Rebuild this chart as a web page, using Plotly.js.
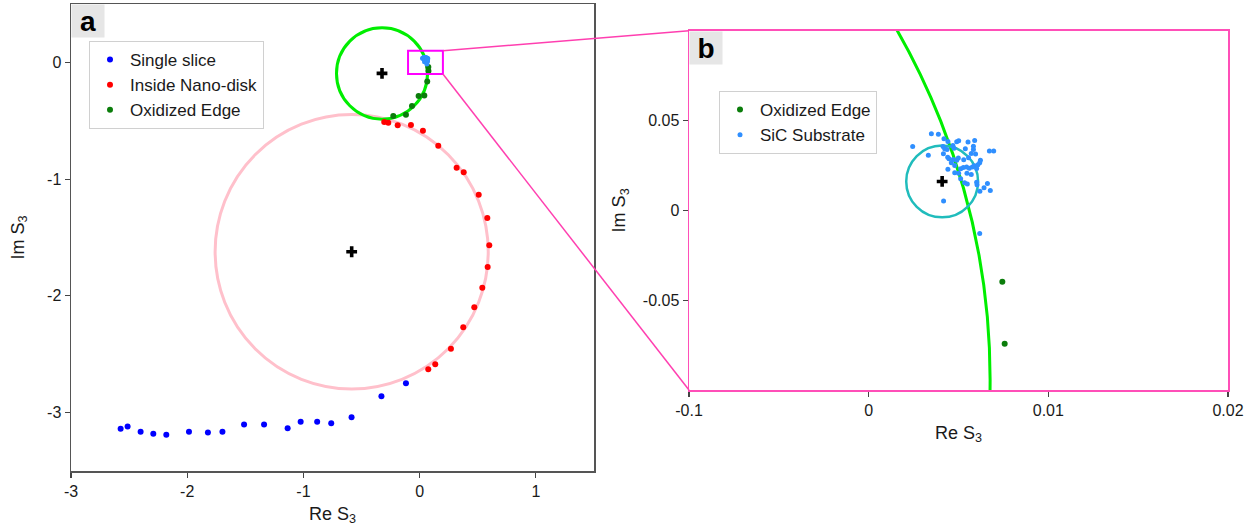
<!DOCTYPE html>
<html>
<head>
<meta charset="utf-8">
<script src="https://cdn.plot.ly/plotly-3.0.1.min.js"></script>
<style>html,body{margin:0;padding:0;background:#fff;}#chart{width:1260px;height:531px;}</style>
</head>
<body>
<div id="chart"></div>
<script>
// ---------------- data ----------------
const singleSliceRe = [-2.573,-2.513,-2.401,-2.292,-2.180,-1.985,-1.822,-1.697,-1.511,-1.339,-1.136,-1.024,-0.882,-0.761,-0.586,-0.329,-0.118];
const singleSliceIm = [-3.139,-3.119,-3.164,-3.182,-3.190,-3.164,-3.171,-3.164,-3.102,-3.102,-3.134,-3.079,-3.079,-3.091,-3.039,-2.859,-2.748];

const nanoDiskRe = [-0.305,-0.270,-0.189,-0.075,0.028,0.160,0.318,0.379,0.508,0.582,0.599,0.585,0.539,0.470,0.375,0.269,0.134,0.074];
const nanoDiskIm = [-0.511,-0.517,-0.539,-0.537,-0.586,-0.714,-0.902,-0.942,-1.134,-1.333,-1.567,-1.753,-1.930,-2.098,-2.269,-2.452,-2.586,-2.628];

const oxEdgeRe = [-0.227,-0.118,-0.066,-0.009,0.040,0.065,0.0744,0.0757];
const oxEdgeIm = [-0.460,-0.449,-0.374,-0.289,-0.283,-0.163,-0.0398,-0.0743];

const sicRe = [0.0349,0.0388,0.0245,0.0332,0.0419,0.0441,0.0490,0.0501,0.0553,0.0590,0.0414,0.0423,0.0436,0.0469,0.0475,0.0538,0.0583,0.0583,0.0672,0.0696,0.0571,0.0595,0.0416,0.0440,0.0447,0.0471,0.0490,0.0499,0.0529,0.0556,0.0622,0.0618,0.0460,0.0479,0.0441,0.0512,0.0527,0.0545,0.0560,0.0577,0.0588,0.0601,0.0608,0.0479,0.0501,0.0547,0.0571,0.0512,0.0534,0.0549,0.0601,0.0603,0.0661,0.0642,0.0677,0.0619,0.0417,0.0618];
const sicIm = [0.0426,0.0424,0.0356,0.0307,0.0398,0.0383,0.0382,0.0387,0.0380,0.0389,0.0356,0.0343,0.0339,0.0361,0.0346,0.0343,0.0357,0.0339,0.0330,0.0330,0.0317,0.0313,0.0315,0.0296,0.0287,0.0283,0.0279,0.0291,0.0282,0.0293,0.0279,0.0265,0.0265,0.0250,0.0229,0.0232,0.0239,0.0241,0.0235,0.0241,0.0248,0.0233,0.0254,0.0209,0.0207,0.0207,0.0200,0.0176,0.0154,0.0146,0.0157,0.0143,0.0150,0.0126,0.0111,0.0106,0.0052,-0.0129];

// fitted circles: nano-disk, oxidized edge, SiC substrate
const circleRe = [-0.585, -0.324, 0.0409];
const circleIm = [-1.622, -0.0945, 0.0161];
const circleR  = [1.175, 0.3916, 0.020];

// zoom window (panel a -> panel b)
const zoomRe = [-0.1, 0.2];
const zoomIm = [-0.1, 0.1];

// ticks
const aXTickVals = [-3,-2,-1,0,1];
const aXTickText = ['-3','-2','-1','0','1'];
const aYTickVals = [0,-1,-2,-3];
const aYTickText = ['0','-1','-2','-3'];
const bXTickVals = [-0.1,0,0.1,0.2];
const bXTickText = ['-0.1','0','0.01','0.02'];
const bYTickVals = [-0.05,0,0.05];
const bYTickText = ['-0.05','0','0.05'];

// ---------------- layout helpers ----------------
const W = 1260, H = 531;
const FONT = 'Liberation Sans, Arial, sans-serif';
const domAX = [71/W, 594/W], domAY = [(H-471)/H, (H-4)/H];
const domBX = [689/W, 1228/W], domBY = [(H-390)/H, (H-30.7)/H];
const rngAX = [-3, 1.5], rngAY = [-3.5, 0.5];
const rngBX = [-0.1, 0.2], rngBY = [-0.1, 0.1];
function toPaper(v, dom, rng){ return dom[0] + (v - rng[0])/(rng[1]-rng[0])*(dom[1]-dom[0]); }

const cBlue = '#0000ff', cRed = '#ff0000', cGreen = '#0b7d0b', cSiC = '#2f8fff';
const crossMarker = {symbol:'cross', size:9, color:'#000', line:{width:0}};

const traces = [
  {x: singleSliceRe, y: singleSliceIm, type:'scatter', mode:'markers', name:'Single slice',
   marker:{color:cBlue, size:6}, xaxis:'x', yaxis:'y', legend:'legend'},
  {x: nanoDiskRe, y: nanoDiskIm, type:'scatter', mode:'markers', name:'Inside Nano-disk',
   marker:{color:cRed, size:6}, xaxis:'x', yaxis:'y', legend:'legend'},
  {x: oxEdgeRe, y: oxEdgeIm, type:'scatter', mode:'markers', name:'Oxidized Edge',
   marker:{color:cGreen, size:6}, xaxis:'x', yaxis:'y', legend:'legend'},
  {x: sicRe, y: sicIm, type:'scatter', mode:'markers', name:'SiC Substrate', showlegend:false,
   marker:{color:cSiC, size:5}, xaxis:'x', yaxis:'y'},
  {x: circleRe.slice(0,2), y: circleIm.slice(0,2), type:'scatter', mode:'markers', showlegend:false,
   marker:crossMarker, xaxis:'x', yaxis:'y', hoverinfo:'skip'},
  // panel b
  {x: oxEdgeRe, y: oxEdgeIm, type:'scatter', mode:'markers', name:'Oxidized Edge',
   marker:{color:cGreen, size:6}, xaxis:'x2', yaxis:'y2', legend:'legend2'},
  {x: sicRe, y: sicIm, type:'scatter', mode:'markers', name:'SiC Substrate',
   marker:{color:cSiC, size:5}, xaxis:'x2', yaxis:'y2', legend:'legend2'},
  {x: circleRe.slice(2), y: circleIm.slice(2), type:'scatter', mode:'markers', showlegend:false,
   marker:crossMarker, xaxis:'x2', yaxis:'y2', hoverinfo:'skip'}
];

const circleColors = ['#ffc0cb', '#00ee00', '#20bcbc'];
const circleWidths = [3, 3, 2.5];
const shapes = [];
for (let i = 0; i < 2; i++) {
  shapes.push({type:'circle', xref:'x', yref:'y', layer:'below',
    x0: circleRe[i]-circleR[i], x1: circleRe[i]+circleR[i], y0: circleIm[i]-circleR[i], y1: circleIm[i]+circleR[i],
    line:{color:circleColors[i], width:circleWidths[i]}});
}
for (let i = 1; i < 3; i++) {
  shapes.push({type:'circle', xref:'x2', yref:'y2', layer:'below',
    x0: circleRe[i]-circleR[i], x1: circleRe[i]+circleR[i], y0: circleIm[i]-circleR[i], y1: circleIm[i]+circleR[i],
    line:{color:circleColors[i], width:circleWidths[i]}});
}
shapes.push({type:'rect', xref:'x', yref:'y', layer:'above',
  x0: zoomRe[0], x1: zoomRe[1], y0: zoomIm[0], y1: zoomIm[1], line:{color:'#ff00ff', width:2}});
const cornerX = toPaper(zoomRe[1], domAX, rngAX);
shapes.push({type:'line', xref:'paper', yref:'paper', layer:'above',
  x0: cornerX, y0: toPaper(zoomIm[1], domAY, rngAY), x1: domBX[0], y1: domBY[1], line:{color:'#ff3fb0', width:1.5}});
shapes.push({type:'line', xref:'paper', yref:'paper', layer:'above',
  x0: cornerX, y0: toPaper(zoomIm[0], domAY, rngAY), x1: domBX[0], y1: domBY[0], line:{color:'#ff3fb0', width:1.5}});

const axA = {showgrid:false, zeroline:false, showline:true, mirror:true, linecolor:'#555', linewidth:1.5,
  ticks:'outside', ticklen:5, tickcolor:'#444', tickwidth:1.2, tickfont:{family:FONT, size:16, color:'#1a1a1a'}};
const axB = Object.assign({}, axA, {linecolor:'#ff4fb8'});
const titleFont = {family:FONT, size:18, color:'#1a1a1a'};

const layout = {
  width: W, height: H, margin:{l:0, r:0, t:0, b:0},
  paper_bgcolor:'#fff', plot_bgcolor:'#fff',
  font:{family:FONT, color:'#1a1a1a'},
  xaxis: Object.assign({}, axA, {domain:domAX, range:rngAX, tickvals:aXTickVals, ticktext:aXTickText, anchor:'y',
    title:{text:'Re S<sub>3</sub>', font:titleFont, standoff:8}}),
  yaxis: Object.assign({}, axA, {domain:domAY, range:rngAY, tickvals:aYTickVals, ticktext:aYTickText, anchor:'x',
    title:{text:'Im S<sub>3</sub>', font:titleFont, standoff:18}}),
  xaxis2: Object.assign({}, axB, {domain:domBX, range:rngBX, tickvals:bXTickVals, ticktext:bXTickText, anchor:'y2',
    title:{text:'Re S<sub>3</sub>', font:titleFont, standoff:8}}),
  yaxis2: Object.assign({}, axB, {domain:domBY, range:rngBY, tickvals:bYTickVals, ticktext:bYTickText, anchor:'x2',
    title:{text:'Im S<sub>3</sub>', font:titleFont, standoff:12}}),
  legend: {x:89/W, y:(H-41)/H, xanchor:'left', yanchor:'top', bgcolor:'#fff', bordercolor:'#d0d0d0', borderwidth:1,
    font:{family:FONT, size:17, color:'#1a1a1a'}, itemsizing:'trace'},
  legend2: {x:719/W, y:(H-91)/H, xanchor:'left', yanchor:'top', bgcolor:'#fff', bordercolor:'#d0d0d0', borderwidth:1,
    font:{family:FONT, size:17, color:'#1a1a1a'}, itemsizing:'trace'},
  shapes: shapes,
  annotations: [
    {text:'<b>a</b>', xref:'paper', yref:'paper', x:domAX[0], y:domAY[1], xanchor:'left', yanchor:'top', showarrow:false,
     bgcolor:'#e6e6e6', width:30, height:30, borderpad:1, font:{family:FONT, size:28, color:'#000'}},
    {text:'<b>b</b>', xref:'paper', yref:'paper', x:domBX[0], y:domBY[1], xanchor:'left', yanchor:'top', showarrow:false,
     bgcolor:'#e6e6e6', width:30, height:30, borderpad:1, font:{family:FONT, size:28, color:'#000'}}
  ],
  showlegend: true
};

Plotly.newPlot('chart', traces, layout, {displayModeBar:false, staticPlot:true});
</script>
</body>
</html>
